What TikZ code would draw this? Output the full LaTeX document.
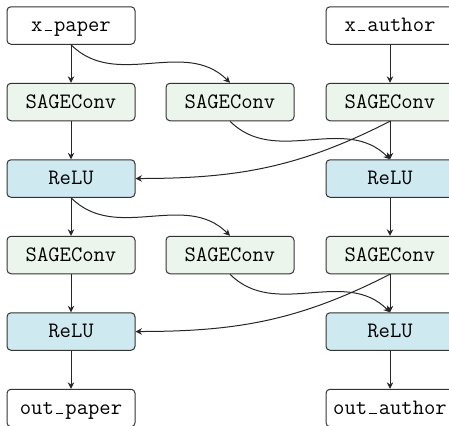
\documentclass[tikz,border=0pt]{standalone}
\usetikzlibrary{arrows.meta}
\definecolor{convfill}{HTML}{EBF5EC}
\definecolor{relufill}{HTML}{CFE9F1}
\definecolor{boxline}{HTML}{333333}
% short rule underscore, one monospace cell wide
\newcommand{\usc}{\makebox[0.525em]{\rule[0.02em]{0.34em}{0.045em}}}
\begin{document}
\begin{tikzpicture}[x=0.5pt,y=0.5pt,
  box/.style={draw=boxline, line width=0.5pt, rounded corners=2pt,
    minimum width=64pt, minimum height=18.75pt, inner sep=2pt,
    text height=0.62em, text depth=0pt,
    font=\fontsize{11}{13}\selectfont\ttfamily},
  io/.style={box, fill=white},
  conv/.style={box, fill=convfill},
  relu/.style={box, fill=relufill},
  flow/.style={-{Stealth[length=3.2pt,width=3.2pt]}, line width=0.5pt, draw=black!85},
  cross/.style={flow, out=-45, in=135},
  back/.style={flow, out=-153, in=0}]
\useasboundingbox (0,0) rectangle (449,-425);

% inputs
\node[io]   (xp)  at (71,-25.5)  {x\usc paper};
\node[io]   (xa)  at (390,-25.5) {x\usc author};
% first layer
\node[conv] (s11) at (71,-102)   {SAGEConv};
\node[conv] (s12) at (230,-102)  {SAGEConv};
\node[conv] (s13) at (390,-102)  {SAGEConv};
\node[relu] (r11) at (71,-178.5) {ReLU};
\node[relu] (r13) at (390,-178.5){ReLU};
% second layer
\node[conv] (s21) at (71,-255)   {SAGEConv};
\node[conv] (s22) at (230,-255)  {SAGEConv};
\node[conv] (s23) at (390,-255)  {SAGEConv};
\node[relu] (r21) at (71,-331.5) {ReLU};
\node[relu] (r23) at (390,-331.5){ReLU};
% outputs
\node[io]   (op)  at (71,-408)   {out\usc paper};
\node[io]   (oa)  at (390,-408)  {out\usc author};

% straight paths
\draw[flow] (xp) -- (s11);
\draw[flow] (xa) -- (s13);
\draw[flow] (s11) -- (r11);
\draw[flow] (s13) -- (r13);
\draw[flow] (r11) -- (s21);
\draw[flow] (r13) -- (s23);
\draw[flow] (s21) -- (r21);
\draw[flow] (s23) -- (r23);
\draw[flow] (r21) -- (op);
\draw[flow] (r23) -- (oa);

% paper -> author messages
\draw[cross] (xp.south)  to (s12.north);
\draw[cross] (s12.south) to (r13.north);
\draw[cross] (r11.south) to (s22.north);
\draw[cross] (s22.south) to (r23.north);

% author -> paper messages
\draw[back] (s13.south) to (r11.east);
\draw[back] (s23.south) to (r21.east);
\end{tikzpicture}
\end{document}
